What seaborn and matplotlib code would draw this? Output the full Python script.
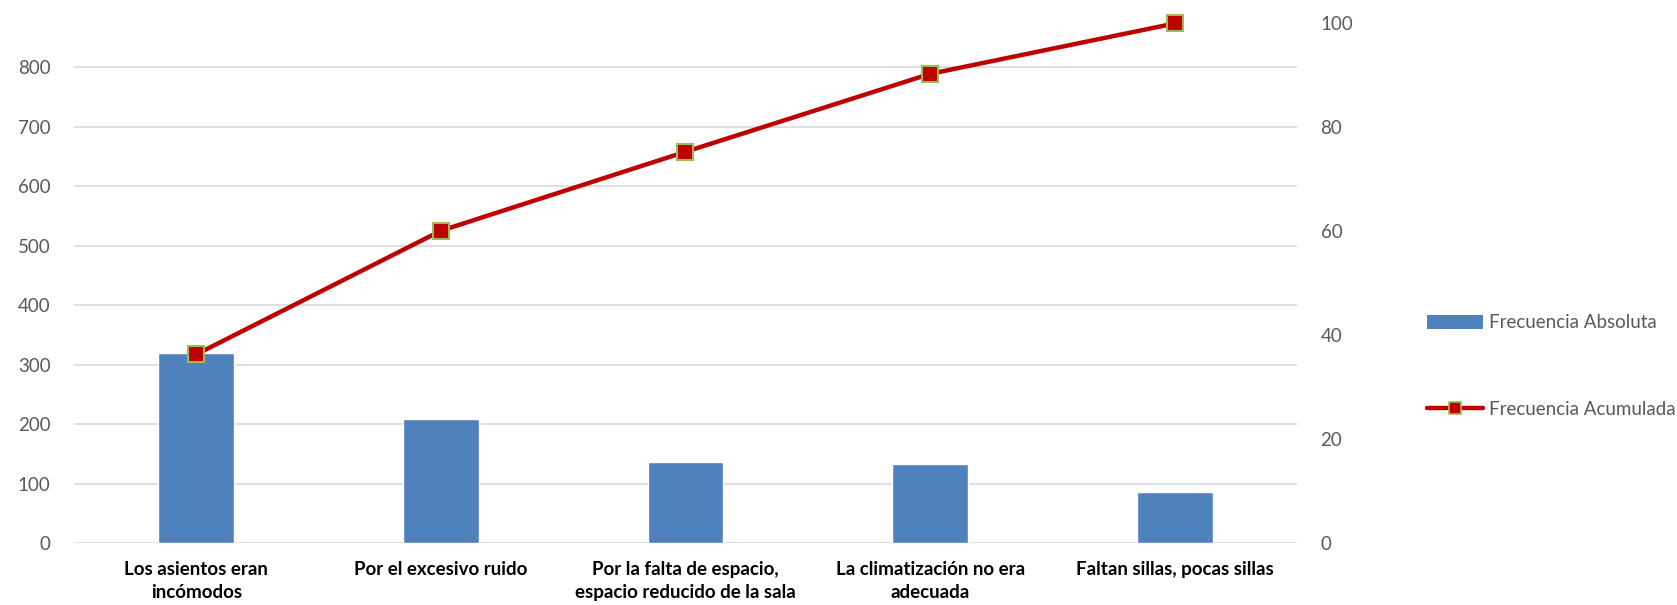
import matplotlib
matplotlib.use("Agg")
import matplotlib.pyplot as plt
import seaborn as sns
import numpy as np
import pandas as pd
from matplotlib.patches import Patch
from matplotlib.lines import Line2D

categories = ["Los asientos eran\nincómodos", "Por el excesivo ruido",
              "Por la falta de espacio,\nespacio reducido de la sala",
              "La climatización no era\nadecuada", "Faltan sillas, pocas sillas"]
frec_abs = [319, 208, 136, 133, 86]
frec_acum = [36.3, 60.1, 75.3, 90.3, 100.0]
left_ticks = [0, 100, 200, 300, 400, 500, 600, 700, 800]
right_ticks = [0, 20, 40, 60, 80, 100]

sns.set_theme(style="white")
plt.rcParams['font.family'] = ['Lato', 'DejaVu Sans']

fig = plt.figure(figsize=(16.77, 6.05), dpi=100)
ax = fig.add_axes([0.0441, 0.1025, 0.7293, 0.8587])

df = pd.DataFrame({"cat": categories, "abs": frec_abs, "acum": frec_acum})
sns.barplot(data=df, x="cat", y="abs", ax=ax, color="#4f81bd", width=0.31,
            saturation=1, zorder=2)
ax.set_ylim(0, 874)
ax.set_xlim(-0.5, len(categories) - 0.5)
ax.set_yticks(left_ticks)
ax.yaxis.grid(True, color="#d9d9d9", linewidth=1.2, zorder=0)
ax.set_axisbelow(True)
for s in ax.spines.values():
    s.set_visible(False)
ax.tick_params(axis="y", length=0, pad=17, labelsize=13.5, labelcolor="#595959")
ax.tick_params(axis="x", length=0, pad=13, labelsize=13.5)
for lab in ax.get_xticklabels():
    lab.set_fontweight("bold")
    lab.set_color("black")
    lab.set_linespacing(1.4)
ax.set_xlabel("")
ax.set_ylabel("")

ax2 = ax.twinx()
sns.lineplot(x=np.arange(len(categories)), y=frec_acum, ax=ax2, color="#c00000",
             linewidth=3.2, marker="s", markersize=12, markerfacecolor="#c00000",
             markeredgecolor="#9bbb59", markeredgewidth=1.5, zorder=5, clip_on=False)
ax2.set_ylim(0, 100)
ax2.set_yticks(right_ticks)
for s in ax2.spines.values():
    s.set_visible(False)
ax2.tick_params(axis="y", length=0, pad=17, labelsize=13.5, labelcolor="#595959")
ax2.set_ylabel("")
ax2.grid(False)

handles = [Patch(facecolor="#4f81bd", edgecolor="none"),
           Line2D([0], [0], color="#c00000", linewidth=3.2, marker="s", markersize=9,
                  markerfacecolor="#c00000", markeredgecolor="#9bbb59", markeredgewidth=1.2)]
leg = fig.legend(handles, ["Frecuencia Absoluta", "Frecuencia Acumulada"],
                 loc="center left", bbox_to_anchor=(0.841, 0.395), frameon=False,
                 fontsize=13.5, labelspacing=3.7, handlelength=3.0, handletextpad=0.3,
                 handleheight=0.8)
for t in leg.get_texts():
    t.set_color("#595959")

fig.savefig("out.png", dpi=100)
